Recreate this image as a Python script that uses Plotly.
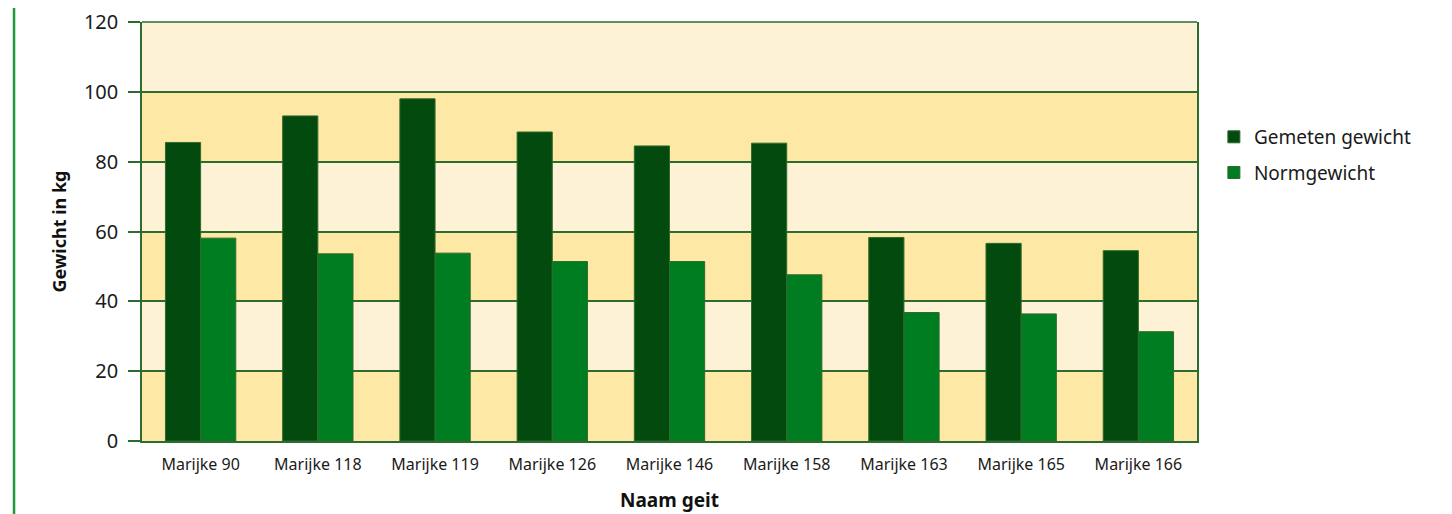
import plotly.graph_objects as go

categories = ["Marijke 90", "Marijke 118", "Marijke 119", "Marijke 126", "Marijke 146",
              "Marijke 158", "Marijke 163", "Marijke 165", "Marijke 166"]
gemeten = [85.5, 93.1, 98.0, 88.5, 84.5, 85.3, 58.3, 56.6, 54.5]
norm = [58.1, 53.6, 53.8, 51.4, 51.4, 47.6, 36.8, 36.4, 31.3]
y_ticks = [0, 20, 40, 60, 80, 100, 120]

DARK = "#024a0e"
GREEN = "#007d20"
GRID = "#2e6b2e"
BAND_LIGHT = "#fef2d6"
BAND_DARK = "#fee8a6"
FONT = "Noto Sans"
TXT = "#1a1a1a"

fig = go.Figure()
fig.add_trace(go.Bar(x=categories, y=gemeten, name="Gemeten gewicht", legendgroup="g1",
                     marker=dict(color=DARK, line=dict(color="#2f6b2a", width=1))))
fig.add_trace(go.Bar(x=categories, y=norm, name="Normgewicht", legendgroup="g2",
                     marker=dict(color=GREEN, line=dict(color="#2f6b2a", width=1))))

shapes = []
for i in range(len(y_ticks) - 1):
    shapes.append(dict(type="rect", xref="paper", yref="y", x0=0, x1=1,
                       y0=y_ticks[i], y1=y_ticks[i + 1],
                       fillcolor=BAND_DARK if i % 2 == 0 else BAND_LIGHT,
                       line=dict(width=0), layer="below"))
# green vertical page line at far left
shapes.append(dict(type="line", xref="paper", yref="paper", x0=-0.1213, x1=-0.1213,
                   y0=-0.3, y1=1.2, line=dict(color="#1e9a3c", width=2.5)))
# top frame line
shapes.append(dict(type="line", xref="paper", yref="paper", x0=0, x1=1, y0=1, y1=1,
                   line=dict(color=GRID, width=1.5)))

fig.update_layout(
    width=1444, height=506,
    margin=dict(l=134, r=255, t=14, b=73, autoexpand=False),
    paper_bgcolor="white", plot_bgcolor=BAND_LIGHT,
    barmode="group", bargap=0.40, bargroupgap=0,
    font=dict(family=FONT, color=TXT),
    shapes=shapes,
    showlegend=True,
    legend=dict(x=1.016, xanchor="left", y=0.771, yanchor="top",
                font=dict(size=19, family=FONT, color=TXT),
                bgcolor="rgba(0,0,0,0)", tracegroupgap=8),
    xaxis=dict(showgrid=False, ticks="", tickfont=dict(size=16, family=FONT, color=TXT),
               showline=True, linecolor=GRID, linewidth=2, mirror=False,
               ticklabelstandoff=8, automargin=False),
    yaxis=dict(range=[0, 120], tickvals=y_ticks, showgrid=True, gridcolor=GRID,
               gridwidth=1.5, ticks="outside", ticklen=12, tickcolor=GRID, tickwidth=1.5,
               tickfont=dict(size=20, family=FONT, color=TXT), showline=True, linecolor=GRID,
               linewidth=1.5, mirror=True, zeroline=False, ticklabelstandoff=6,
               automargin=False),
    annotations=[
        dict(text="<b>Gewicht in kg</b>", xref="paper", yref="paper", x=-0.0796, y=0.5,
             xanchor="center", yanchor="middle", textangle=-90, showarrow=False,
             font=dict(size=18, family=FONT, color="#111111")),
        dict(text="<b>Naam geit</b>", xref="paper", yref="paper", x=0.5, y=-0.1408,
             xanchor="center", yanchor="middle", showarrow=False,
             font=dict(size=19, family=FONT, color="#111111")),
    ],
)

fig.write_html("out.html")
